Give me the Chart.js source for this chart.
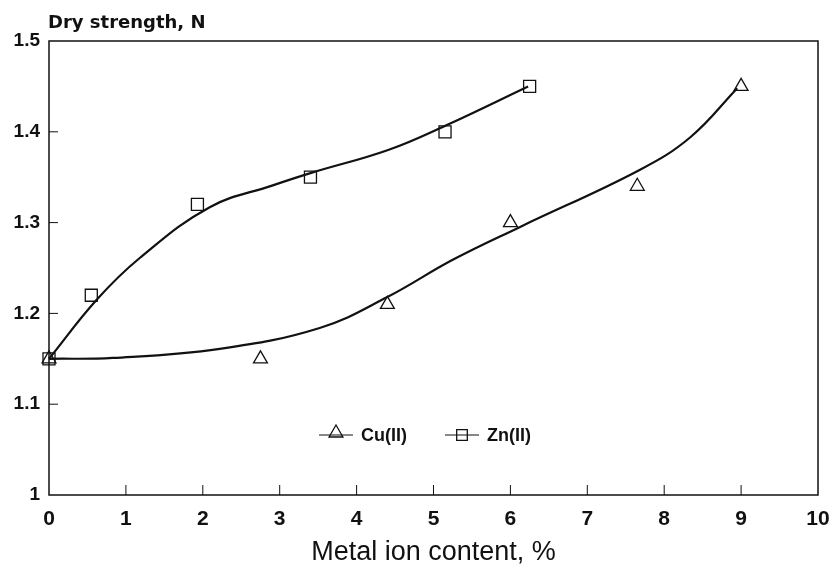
<!DOCTYPE html>
<html>
<head>
<meta charset="utf-8">
<script src="https://cdn.jsdelivr.net/npm/chart.js@4.4.1/dist/chart.umd.min.js"></script>
<style>
  html, body { margin: 0; padding: 0; background: #fff; }
  canvas { display: block; }
</style>
</head>
<body>
<canvas id="myChart" width="834" height="569"></canvas>
<script>
// measured points
const cuX = [0, 2.75, 4.4, 6.0, 7.65, 9.0];
const cuY = [1.15, 1.15, 1.21, 1.30, 1.34, 1.45];
const znX = [0, 0.55, 1.93, 3.4, 5.15, 6.25];
const znY = [1.15, 1.22, 1.32, 1.35, 1.40, 1.45];

// fitted curves
const cuFitX = [0, 0.83, 2.22, 3.52, 4.4, 5.25, 6.12, 7.68, 8.34, 8.95];
const cuFitY = [1.15, 1.151, 1.161, 1.184, 1.218, 1.259, 1.295, 1.358, 1.394, 1.448];
const znFitX = [0, 0.62, 1.18, 2.09, 2.91, 3.42, 4.41, 5.16, 6.23];
const znFitY = [1.15, 1.215, 1.261, 1.317, 1.341, 1.355, 1.38, 1.407, 1.45];

const seriesNames = ["Cu(II)", "Zn(II)"];
const yTitle = "Dry strength, N";
const xTitle = "Metal ion content, %";

const ink = "#111";

function pts(xs, ys) {
  return xs.map((x, i) => ({ x: x, y: ys[i] }));
}

// frame, inward ticks, y title and the legend inside the plot
const framePlugin = {
  id: "frame",
  afterDraw(chart) {
    const ctx = chart.ctx;
    const a = chart.chartArea;
    const xs = chart.scales.x;
    const ys = chart.scales.y;
    ctx.save();
    ctx.strokeStyle = ink;
    ctx.lineWidth = 1.5;
    ctx.strokeRect(a.left, a.top, a.right - a.left, a.bottom - a.top);

    ctx.lineWidth = 1;
    ctx.beginPath();
    ys.ticks.slice(1, -1).forEach((t) => {
      const py = ys.getPixelForValue(t.value);
      ctx.moveTo(a.left, py);
      ctx.lineTo(a.left + 9, py);
    });
    xs.ticks.slice(1, -1).forEach((t) => {
      const px = xs.getPixelForValue(t.value);
      ctx.moveTo(px, a.bottom);
      ctx.lineTo(px, a.bottom - 10);
    });
    ctx.stroke();

    ctx.fillStyle = ink;
    ctx.font = "bold 18px 'DejaVu Sans'";
    ctx.textBaseline = "alphabetic";
    ctx.textAlign = "left";
    ctx.fillText(yTitle, 48, 28);

    // legend
    const ly = 435;
    const items = [
      { x0: 319, style: "triangle", r: 8, label: seriesNames[0] },
      { x0: 445, style: "rect", r: 7.5, label: seriesNames[1] },
    ];
    ctx.font = "bold 18px 'Liberation Sans'";
    ctx.textBaseline = "middle";
    items.forEach((it) => {
      ctx.lineWidth = 1;
      ctx.strokeStyle = ink;
      ctx.beginPath();
      ctx.moveTo(it.x0, ly);
      ctx.lineTo(it.x0 + 34, ly);
      ctx.stroke();
      ctx.lineWidth = 1.3;
      ctx.fillStyle = "rgba(0,0,0,0)";
      Chart.helpers.drawPoint(ctx, { pointStyle: it.style, radius: it.r, rotation: 0, borderWidth: 1.3 }, it.x0 + 17, it.style === "triangle" ? ly - 2 : ly);
      ctx.fillStyle = ink;
      ctx.fillText(it.label, it.x0 + 42, ly + 1);
    });
    ctx.restore();
  },
};

const ctx = document.getElementById("myChart");

new Chart(ctx, {
  type: "scatter",
  data: {
    datasets: [
      {
        label: seriesNames[0] + " fit",
        data: pts(cuFitX, cuFitY),
        showLine: true,
        borderColor: ink,
        borderWidth: 2.2,
        pointRadius: 0,
        tension: 0.4,
        clip: false,
      },
      {
        label: seriesNames[1] + " fit",
        data: pts(znFitX, znFitY),
        showLine: true,
        borderColor: ink,
        borderWidth: 2.2,
        pointRadius: 0,
        tension: 0.4,
        clip: false,
      },
      {
        label: seriesNames[0],
        data: pts(cuX, cuY),
        showLine: false,
        pointStyle: "triangle",
        pointRadius: 8,
        pointBorderWidth: 1.3,
        borderColor: ink,
        backgroundColor: "rgba(0,0,0,0)",
        clip: false,
      },
      {
        label: seriesNames[1],
        data: pts(znX, znY),
        showLine: false,
        pointStyle: "rect",
        pointRadius: 8.5,
        pointBorderWidth: 1.3,
        borderColor: ink,
        backgroundColor: "rgba(0,0,0,0)",
        clip: false,
      },
    ],
  },
  options: {
    responsive: false,
    animation: false,
    layout: { padding: { top: 41, right: 16, left: 0, bottom: 0 } },
    plugins: {
      legend: { display: false },
      tooltip: { enabled: false },
    },
    scales: {
      x: {
        type: "linear",
        min: 0,
        max: 10,
        grid: { display: false, drawTicks: false },
        border: { display: false },
        ticks: {
          stepSize: 1,
          padding: 12,
          color: ink,
          font: { family: "'Liberation Sans'", size: 21, weight: "bold" },
        },
        title: {
          display: true,
          text: xTitle,
          color: ink,
          padding: { top: 0, bottom: 0 },
          font: { family: "'Liberation Sans'", size: 27 },
        },
        afterFit(scale) {
          scale.height = 74;
          scale.paddingLeft = 0;
          scale.paddingRight = 0;
        },
      },
      y: {
        type: "linear",
        min: 1,
        max: 1.5,
        grid: { display: false, drawTicks: false },
        border: { display: false },
        ticks: {
          stepSize: 0.1,
          padding: 9,
          color: ink,
          font: { family: "'Liberation Sans'", size: 19, weight: "bold" },
          callback: (v) => String(Math.round(v * 10) / 10),
        },
        afterFit(scale) {
          scale.width = 49;
          scale.paddingTop = 0;
          scale.paddingBottom = 0;
        },
      },
    },
  },
  plugins: [framePlugin],
});
</script>
</body>
</html>
